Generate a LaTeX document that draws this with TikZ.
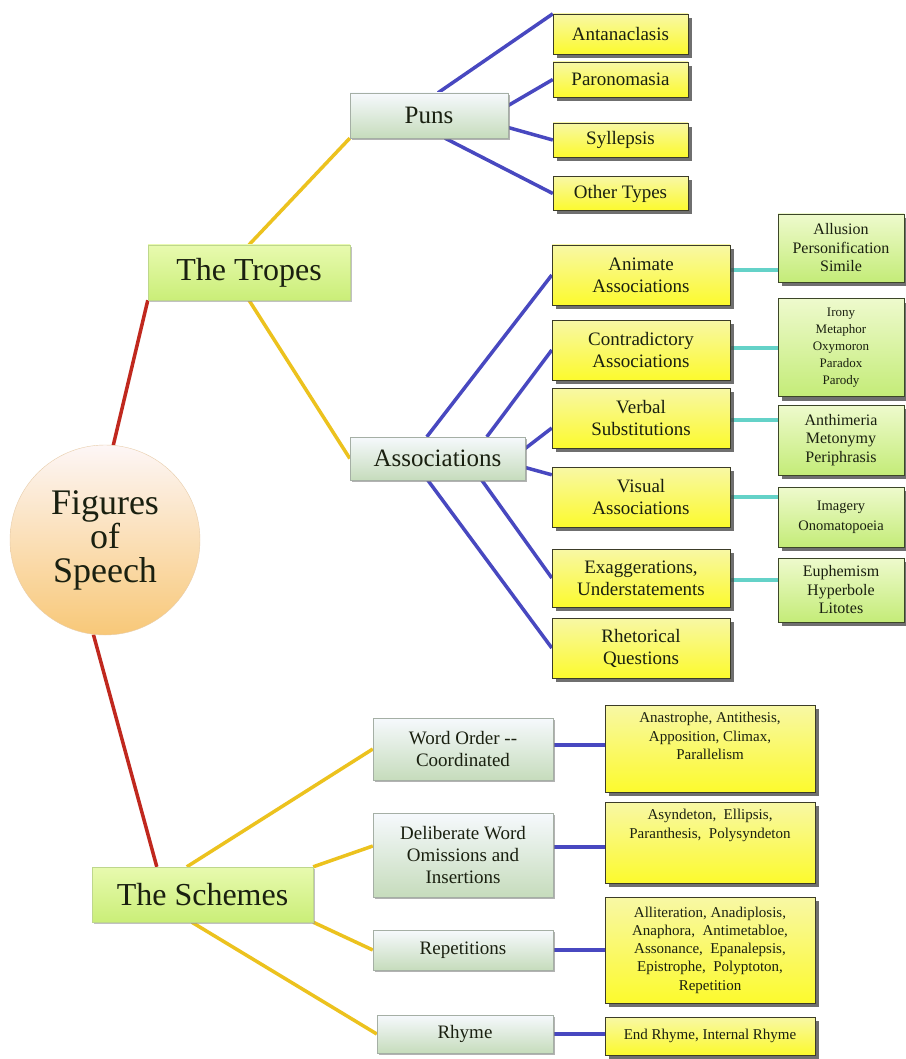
\documentclass[tikz,border=0pt]{standalone}
\usepackage{fontspec}
\setmainfont{Liberation Serif}
\usepackage{xcolor}
\usepackage{tikz}
\usetikzlibrary{shapes.geometric, positioning, calc, shadows, backgrounds}

\definecolor{txtdark}{RGB}{26,32,16}
\definecolor{redlink}{RGB}{192,40,30}
\definecolor{goldlink}{RGB}{236,194,30}
\definecolor{bluelink}{RGB}{72,72,192}
\definecolor{teallink}{RGB}{100,210,200}

\tikzstyle{rootnode} = [circle, draw={rgb,255:red,232;green,205;blue,170}, top color={rgb,255:red,253;green,246;blue,246}, bottom color={rgb,255:red,248;green,200;blue,120}, minimum size=190pt, inner sep=0pt, align=center, text=txtdark, font=\fontsize{36}{34}\selectfont]
\tikzstyle{mainbox} = [rectangle, draw={rgb,255:red,190;green,215;blue,140}, top color={rgb,255:red,232;green,250;blue,175}, bottom color={rgb,255:red,202;green,238;blue,120}, inner sep=0pt, text=txtdark, font=\fontsize{32}{36}\selectfont, drop shadow={shadow xshift=2pt, shadow yshift=-2pt, fill=black!40, opacity=0.6}]
\tikzstyle{subbox} = [rectangle, draw={rgb,255:red,165;green,175;blue,165}, top color={rgb,255:red,246;green,249;blue,253}, bottom color={rgb,255:red,198;green,220;blue,188}, inner sep=0pt, align=center, text=txtdark, font=\fontsize{19}{22}\selectfont, drop shadow={shadow xshift=2pt, shadow yshift=-2pt, fill=black!50, opacity=0.6}]
\tikzstyle{leafbox} = [rectangle, draw={rgb,255:red,60;green,60;blue,40}, top color={rgb,255:red,248;green,248;blue,165}, bottom color={rgb,255:red,252;green,250;blue,45}, inner sep=0pt, align=center, text=txtdark, font=\fontsize{19}{22}\selectfont, drop shadow={shadow xshift=4pt, shadow yshift=-4pt, fill=black!75, opacity=0.75}]
\tikzstyle{notebox} = [rectangle, draw={rgb,255:red,60;green,70;blue,40}, top color={rgb,255:red,238;green,250;blue,205}, bottom color={rgb,255:red,196;green,236;blue,120}, inner sep=0pt, align=center, text=txtdark, font=\fontsize{16}{18.5}\selectfont, drop shadow={shadow xshift=4pt, shadow yshift=-4pt, fill=black!75, opacity=0.75}]
\tikzstyle{redline} = [line width=3.5pt, redlink]
\tikzstyle{goldline} = [line width=3.5pt, goldlink]
\tikzstyle{blueline} = [line width=3.5pt, bluelink]
\tikzstyle{tealline} = [line width=4.5pt, teallink]

\begin{document}
\begin{tikzpicture}[x=1pt, y=-1pt]
\useasboundingbox (0,0) rectangle (905,1059);

% Root
\node[rootnode] (circ) at (105,540) {Figures\\of\\Speech};

% Main branches
\node[mainbox, minimum width=202pt, minimum height=55pt] (tropes) at (249,272.5) {The Tropes};
\node[mainbox, minimum width=221pt, minimum height=55pt] (schemes) at (202.5,894.5) {The Schemes};

% Tropes
\node[subbox, minimum width=158pt, minimum height=45pt, font=\fontsize{25}{28}\selectfont] (puns) at (429,115.5) {Puns};
\node[subbox, minimum width=175pt, minimum height=43pt, font=\fontsize{25}{28}\selectfont] (assoc) at (437.5,458.5) {Associations};

% Puns
\node[leafbox, minimum width=135pt, minimum height=40pt] (antan) at (620.5,34) {Antanaclasis};
\node[leafbox, minimum width=135pt, minimum height=35pt] (paron) at (620.5,79.5) {Paronomasia};
\node[leafbox, minimum width=135pt, minimum height=34pt] (syll) at (620.5,140) {Syllepsis};
\node[leafbox, minimum width=135pt, minimum height=34pt] (other) at (620.5,193.5) {Other Types};

% Associations
\node[leafbox, minimum width=178pt, minimum height=60pt] (animate) at (641,275) {Animate\\Associations};
\node[leafbox, minimum width=178pt, minimum height=60pt] (contra) at (641,350) {Contradictory\\Associations};
\node[leafbox, minimum width=178pt, minimum height=60pt] (verbal) at (641,418) {Verbal\\Substitutions};
\node[leafbox, minimum width=178pt, minimum height=60pt] (visual) at (641,497) {Visual\\Associations};
\node[leafbox, minimum width=178pt, minimum height=58pt] (exag) at (641,578) {Exaggerations,\\Understatements};
\node[leafbox, minimum width=178pt, minimum height=60pt] (rhet) at (641,648) {Rhetorical\\Questions};

% Examples
\node[notebox, minimum width=126pt, minimum height=68pt] (allus) at (841,248) {Allusion\\Personification\\Simile};
\node[notebox, minimum width=126pt, minimum height=98pt, font=\fontsize{13}{17}\selectfont] (irony) at (841,347.5) {Irony\\Metaphor\\Oxymoron\\Paradox\\Parody};
\node[notebox, minimum width=126pt, minimum height=70pt] (anthim) at (841,440) {Anthimeria\\Metonymy\\Periphrasis};
\node[notebox, minimum width=126pt, minimum height=60pt, font=\fontsize{14.5}{20}\selectfont] (imag) at (841,517) {Imagery\\Onomatopoeia};
\node[notebox, minimum width=126pt, minimum height=64pt] (euph) at (841,590) {Euphemism\\Hyperbole\\Litotes};

% Schemes
\node[subbox, minimum width=180pt, minimum height=62pt] (wordord) at (463,749) {Word Order -{}-\\Coordinated};
\node[subbox, minimum width=180pt, minimum height=84pt] (delib) at (463,855) {Deliberate Word\\Omissions and\\Insertions};
\node[subbox, minimum width=180pt, minimum height=40pt] (repet) at (463,950) {Repetitions};
\node[subbox, minimum width=176pt, minimum height=38pt] (rhyme) at (465,1034) {Rhyme};

\node[leafbox, minimum width=210pt, minimum height=87pt, font=\fontsize{15}{18.5}\selectfont] (anast) at (710,748.5) {\parbox[c][72pt][t]{200pt}{\centering Anastrophe, Antithesis,\\ Apposition, Climax,\\ Parallelism}};
\node[leafbox, minimum width=210pt, minimum height=81pt, font=\fontsize{15}{18.5}\selectfont] (asyn) at (710,842.5) {\parbox[c][66pt][t]{200pt}{\centering Asyndeton,\ \ Ellipsis,\\ Paranthesis,\ \ Polysyndeton}};
\node[leafbox, minimum width=210pt, minimum height=106pt, font=\fontsize{15}{18.3}\selectfont] (allit) at (710,950) {Alliteration, Anadiplosis,\\Anaphora,\ \ Antimetabloe,\\Assonance,\ \ Epanalepsis,\\Epistrophe,\ \ Polyptoton,\\Repetition};
\node[leafbox, minimum width=210pt, minimum height=38pt, font=\fontsize{15}{18.5}\selectfont] (endrh) at (710,1036) {End Rhyme, Internal Rhyme};

% Connectors
\begin{scope}[on background layer]
\fill[white] (0,0) rectangle (905,1059);

\draw[redline] (circ.85) -- (tropes.south west);
\draw[redline] (circ.-97) -- ($(schemes.north west)+(65,0)$);

\draw[goldline] (tropes.north) -- (puns.south west);
\draw[goldline] (tropes.south) -- (assoc.west);
\draw[goldline] ($(schemes.north west)+(95,0)$) -- (wordord.west);
\draw[goldline] (schemes.north east) -- ($(delib.west)+(0,-9)$);
\draw[goldline] (schemes.south east) -- (repet.west);
\draw[goldline] ($(schemes.south west)+(100,0)$) -- (rhyme.west);

\draw[blueline] ($(puns.north)+(9,0)$) -- (antan.north west);
\draw[blueline] ($(puns.east)+(0,-10)$) -- (paron.west);
\draw[blueline] ($(puns.east)+(0,12)$) -- (syll.west);
\draw[blueline] ($(puns.south)+(16,0)$) -- (other.west);

\draw[blueline] ($(assoc.north west)+(77,0)$) -- (animate.west);
\draw[blueline] ($(assoc.north west)+(137,0)$) -- (contra.west);
\draw[blueline] ($(assoc.east)+(0,-10)$) -- ($(verbal.west)+(0,10)$);
\draw[blueline] ($(assoc.east)+(0,9)$) -- ($(visual.north west)+(0,8)$);
\draw[blueline] ($(assoc.south west)+(132,0)$) -- (exag.west);
\draw[blueline] ($(assoc.south west)+(78,0)$) -- (rhet.west);

\draw[tealline] ($(animate.east)+(0,-5)$) coordinate (t1) -- (t1 -| allus.west);
\draw[tealline] ($(contra.east)+(0,-2)$) coordinate (t2) -- (t2 -| irony.west);
\draw[tealline] ($(verbal.east)+(0,2)$) coordinate (t3) -- (t3 -| anthim.west);
\draw[tealline] (visual.east) -- (visual.east -| imag.west);
\draw[tealline] ($(exag.east)+(0,2)$) coordinate (t5) -- (t5 -| euph.west);

\draw[blueline] ($(wordord.east)+(0,-4)$) coordinate (b1) -- (b1 -| anast.west);
\draw[blueline] ($(delib.east)+(0,-8)$) coordinate (b2) -- (b2 -| asyn.west);
\draw[blueline] (repet.east) -- (repet.east -| allit.west);
\draw[blueline] (rhyme.east) -- (rhyme.east -| endrh.west);
\end{scope}
\end{tikzpicture}
\end{document}
